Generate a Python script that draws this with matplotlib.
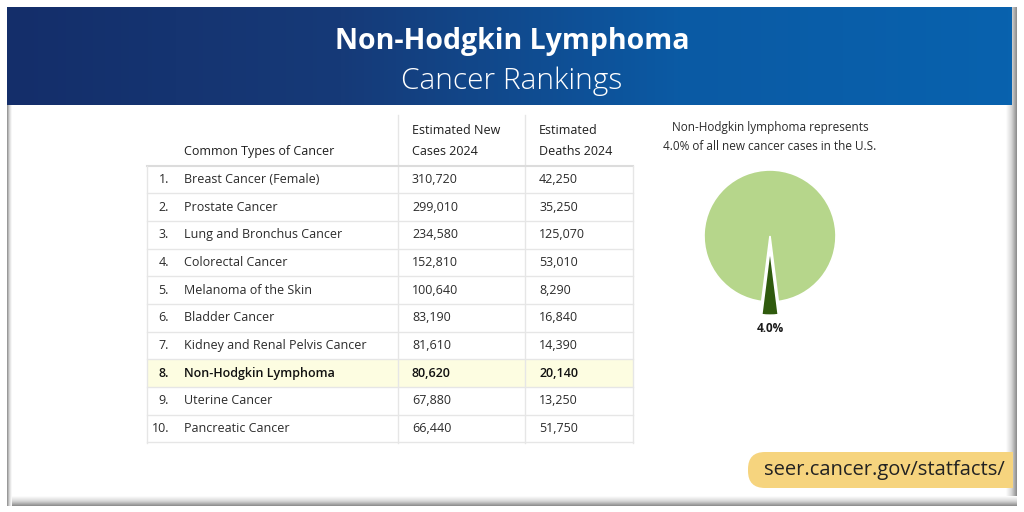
import numpy as np
import matplotlib.pyplot as plt
from matplotlib.colors import LinearSegmentedColormap
from matplotlib.patches import Rectangle, FancyBboxPatch

plt.rcParams['font.family'] = ['Open Sans', 'DejaVu Sans']

title = 'Non-Hodgkin Lymphoma'
subtitle = 'Cancer Rankings'
col_headers = ['Common Types of Cancer', 'Estimated New\nCases 2024', 'Estimated\nDeaths 2024']
ranks = ['1.', '2.', '3.', '4.', '5.', '6.', '7.', '8.', '9.', '10.']
cancers = ['Breast Cancer (Female)', 'Prostate Cancer', 'Lung and Bronchus Cancer',
           'Colorectal Cancer', 'Melanoma of the Skin', 'Bladder Cancer',
           'Kidney and Renal Pelvis Cancer', 'Non-Hodgkin Lymphoma',
           'Uterine Cancer', 'Pancreatic Cancer']
new_cases = [310720, 299010, 234580, 152810, 100640, 83190, 81610, 80620, 67880, 66440]
deaths = [42250, 35250, 125070, 53010, 8290, 16840, 14390, 20140, 13250, 51750]
highlight = 'Non-Hodgkin Lymphoma'
pie_share = [4.0, 96.0]
pie_note = 'Non-Hodgkin lymphoma represents\n4.0% of all new cancer cases in the U.S.'
url = 'seer.cancer.gov/statfacts/'

W, H = 1024, 512
fig = plt.figure(figsize=(W / 100, H / 100), dpi=100)
ax = fig.add_axes([0, 0, 1, 1])
ax.axis('off')

# inner shadow of the frame: thin on the left, wider on the right and bottom
shade = LinearSegmentedColormap.from_list('shade', ['#ffffff', '#d8d8d8', '#8a8a8a'])
ramp = np.linspace(0, 1, 64)
ax.imshow(ramp.reshape(1, -1), cmap=shade, extent=(1006, 1017, 506, 7), aspect='auto', zorder=1)
ax.imshow(ramp.reshape(-1, 1), cmap=shade, extent=(7, 1017, 506, 496), aspect='auto', zorder=1)
ax.imshow(ramp[::-1].reshape(1, -1), cmap=shade, extent=(7, 12, 506, 7), aspect='auto', zorder=1)

# header gradient
cmap = LinearSegmentedColormap.from_list('hdr', ['#142e6a', '#163a78', '#0b5aa4', '#0862ae'])
grad = np.linspace(0, 1, 256).reshape(1, -1)
ax.imshow(grad, cmap=cmap, extent=(7, 1012, 105, 7), aspect='auto', zorder=3)
ax.set_xlim(0, W)
ax.set_ylim(H, 0)
ax.text(512, 41, title, color='white', fontsize=20.5, fontweight='bold',
        ha='center', va='center', zorder=4)
ax.text(512, 81, subtitle, color='white', fontsize=21.5, fontweight='light',
        ha='center', va='center', zorder=4)

# table
tx0, tx1 = 147, 633
c1, c2 = 398, 525
row_h = 27.7
top = 165.5
line_c = '#e6e6e6'
txt_c = '#2b2b2b'
hdr_c = '#1e1e1e'
ax.text(184, 151, col_headers[0], fontsize=9, color=hdr_c, va='center', ha='left', zorder=5)
ax.text(412, 141, col_headers[1], fontsize=9, color=hdr_c, va='center', ha='left',
        linespacing=1.75, zorder=5)
ax.text(539, 141, col_headers[2], fontsize=9, color=hdr_c, va='center', ha='left',
        linespacing=1.75, zorder=5)
bottom = top + row_h * len(cancers)
ax.plot([c1, c1], [115, bottom], color=line_c, lw=1, zorder=4)
ax.plot([c2, c2], [115, bottom], color=line_c, lw=1, zorder=4)
ax.plot([tx0, tx1], [top, top], color='#dcdcdc', lw=1.5, zorder=4)
for i, (r, name, nc, d) in enumerate(zip(ranks, cancers, new_cases, deaths)):
    y0 = top + i * row_h
    yc = y0 + row_h / 2
    bold = name == highlight
    if bold:
        ax.add_patch(Rectangle((tx0, y0), tx1 - tx0, row_h, fc='#fdfde1', ec='none', zorder=3))
    ax.plot([tx0, tx1], [y0 + row_h, y0 + row_h], color=line_c, lw=1, zorder=4)
    fw = 'semibold' if bold else 'normal'
    col = '#111111' if bold else txt_c
    ax.text(169, yc, r, fontsize=9, ha='right', va='center', color=col, fontweight=fw, zorder=5)
    ax.text(184, yc, name, fontsize=9, ha='left', va='center', color=col, fontweight=fw, zorder=5)
    ax.text(412, yc, f'{nc:,}', fontsize=9, ha='left', va='center', color=col, fontweight=fw, zorder=5)
    ax.text(539, yc, f'{d:,}', fontsize=9, ha='left', va='center', color=col, fontweight=fw, zorder=5)
ax.plot([tx0, tx0], [top, bottom], color=line_c, lw=1, zorder=4)
ax.plot([tx1, tx1], [top, bottom], color=line_c, lw=1, zorder=4)

# pie note
ax.text(770, 137, pie_note, fontsize=8.5, color=txt_c, ha='center', va='center',
        linespacing=1.6, zorder=5)

# pie: center (770, 236), radius 66 px
pw = 240
pax = fig.add_axes([(770 - pw / 2) / W, 1 - (236 + pw / 2) / H, pw / W, pw / H])
pax.set_zorder(6)
pie_r = 66
pax.pie(pie_share, colors=['#2f5a0d', '#b6d68b'], startangle=270 - 7.2,
        counterclock=True, explode=[0.2, 0], radius=1,
        wedgeprops=dict(edgecolor='white', linewidth=1.2))
lim = pw / 2 / pie_r
pax.set_xlim(-lim, lim)
pax.set_ylim(-lim, lim)
pax.set_aspect('equal')
pax.axis('off')
ax.text(770, 329, f'{pie_share[0]:.1f}%', fontsize=8.5, fontweight='bold', color='#1a1a1a',
        ha='center', va='center', zorder=5)

# url badge
ax.add_patch(FancyBboxPatch((748, 452), 262, 36, boxstyle='round,pad=0,rounding_size=17',
                            fc='#f6d47e', ec='none', zorder=5))
ax.add_patch(Rectangle((990, 452), 23, 36, fc='#f6d47e', ec='none', zorder=5))
ax.text(884, 470, url, fontsize=14.5, color='#222222', ha='center', va='center', zorder=6)

fig.savefig('out.png', dpi=100)
